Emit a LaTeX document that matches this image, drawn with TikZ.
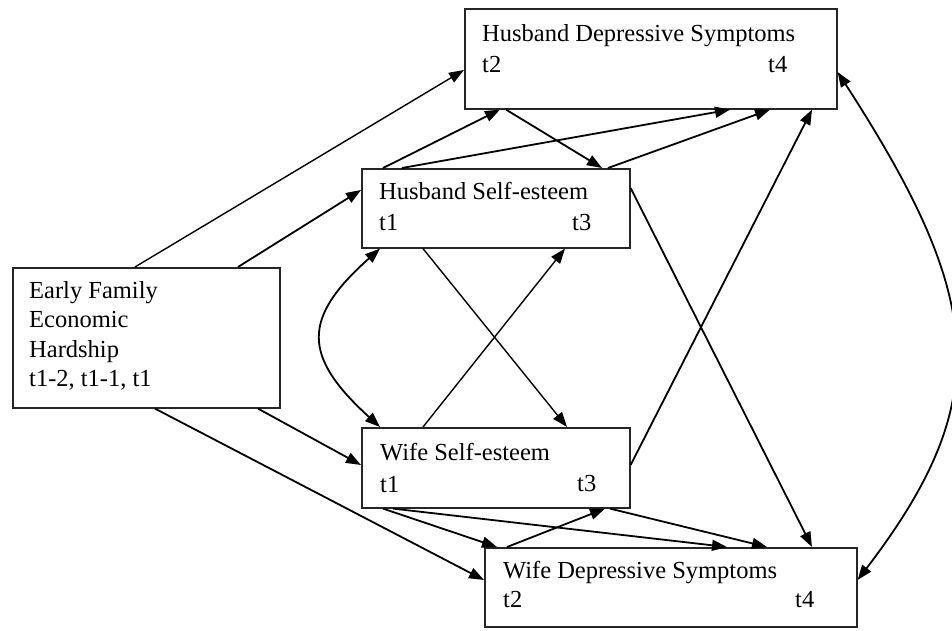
\documentclass[tikz,border=0pt]{standalone}
\usepackage{fontspec}
\setmainfont{Liberation Serif}
\usetikzlibrary{arrows.meta}
\begin{document}
\begin{tikzpicture}[x=1pt,y=-1pt,
  box/.style={draw=black!85, line width=1.6pt, rectangle, inner sep=0pt, anchor=north west},
  lbl/.style={font=\fontsize{24.5}{29}\selectfont, inner sep=0pt, anchor=base west},
  arr/.style={line width=1.8pt, -{Triangle[length=15pt,width=11pt]}},
  thinarr/.style={line width=1.4pt, -{Triangle[length=15pt,width=11pt]}},
  dbl/.style={line width=1.8pt, {Triangle[length=15pt,width=11pt]}-{Triangle[length=15pt,width=11pt]}}]
\useasboundingbox (0,0) rectangle (952,631);
% boxes
\node[box, minimum width=372pt, minimum height=100pt] (hd) at (464,8) {};
\node[box, minimum width=268pt, minimum height=79pt] (hs) at (361,168) {};
\node[box, minimum width=267pt, minimum height=140pt] (ef) at (12,267) {};
\node[box, minimum width=268pt, minimum height=80pt] (ws) at (361,427) {};
\node[box, minimum width=372pt, minimum height=79pt] (wd) at (484,547) {};
% labels
\node[lbl] (hdt) at (482,42) {Husband Depressive Symptoms};
\node[lbl] (hda) at (482,73) {t2};
\node[lbl] (hdb) at (768,73) {t4};
\node[lbl] (hst) at (379,199) {Husband Self-esteem};
\node[lbl] (hsa) at (379,230) {t1};
\node[lbl] (hsb) at (572,230) {t3};
\node[lbl] (efa) at (29,298) {Early Family};
\node[lbl] (efb) at (29,327) {Economic};
\node[lbl] (efc) at (29,357) {Hardship};
\node[lbl] (efd) at (29,386) {t1-2, t1-1, t1};
\node[lbl] (wst) at (380,460) {Wife Self-esteem};
\node[lbl] (wsa) at (380,492) {t1};
\node[lbl] (wsb) at (577,491) {t3};
\node[lbl] (wdt) at (503,578) {Wife Depressive Symptoms};
\node[lbl] (wda) at (503,607) {t2};
\node[lbl] (wdb) at (795,607) {t4};
% arrows from hardship
\draw[thinarr] ([xshift=123pt]ef.north west) -- ([yshift=-62pt]hd.north west);
\draw[arr] ([xshift=226pt]ef.north west) -- ([yshift=-22pt]hs.north west);
\draw[arr] ([xshift=143pt]ef.south west) -- ([yshift=-33pt]wd.north west);
\draw[arr] ([xshift=246pt]ef.south west) -- ([yshift=-38pt]ws.north west);
% husband
\draw[arr] ([xshift=22pt]hs.north west) -- ([xshift=36pt]hd.south west);
\draw[arr] ([xshift=41pt]hs.north west) -- ([xshift=266pt]hd.south west);
\draw[arr] ([xshift=42pt]hd.south west) -- ([xshift=241pt]hs.north west);
\draw[arr] ([xshift=247pt]hs.north west) -- ([xshift=306pt]hd.south west);
\draw[arr] ([yshift=-20pt]hs.north east) -- ([xshift=328pt]wd.north west);
% cross
\draw[thinarr] ([xshift=62pt]hs.south west) -- ([xshift=206pt]ws.north west);
\draw[thinarr] ([xshift=62pt]ws.north west) -- ([xshift=204pt]hs.south west);
\draw[dbl] ([xshift=19pt]hs.south west) .. controls (302,318) and (302,356) .. ([xshift=19pt]ws.north west);
% wife
\draw[arr] ([yshift=-38pt]ws.north east) -- ([xshift=348pt]hd.south west);
\draw[arr] ([xshift=22pt]ws.south west) -- ([xshift=13pt]wd.north west);
\draw[arr] ([xshift=32pt]ws.south west) -- ([xshift=243pt]wd.north west);
\draw[arr] ([xshift=23pt]wd.north west) -- ([xshift=244pt]ws.south west);
\draw[arr] ([xshift=249pt]ws.south west) -- ([xshift=283pt]wd.north west);
% right curve
\draw[dbl] ([yshift=-64pt]hd.north east) .. controls (985,300) and (995,400) .. ([yshift=-33pt]wd.north east);
\end{tikzpicture}
\end{document}
